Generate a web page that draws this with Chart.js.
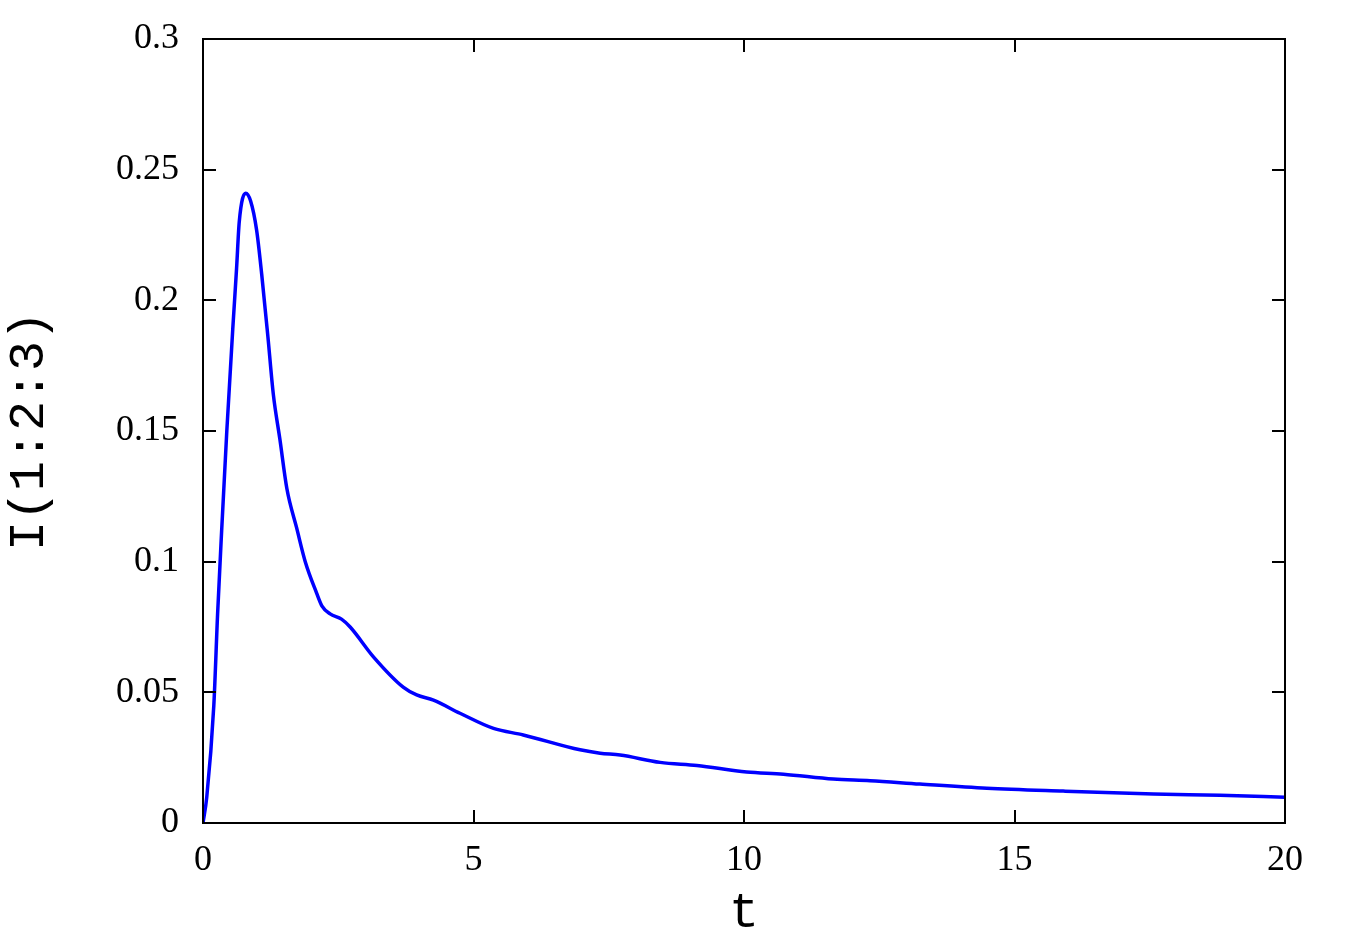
<!DOCTYPE html>
<html>
<head>
<meta charset="utf-8">
<script src="https://cdn.jsdelivr.net/npm/chart.js@4.4.1/dist/chart.umd.min.js"></script>
<style>
body { margin: 0; background: #fff; }
</style>
</head>
<body>
<canvas id="resultChart" width="1352" height="944"></canvas>
<script>
var tValues = [0, 0.07, 0.2, 0.27, 0.345, 0.44, 0.55, 0.62, 0.67, 0.79, 0.88, 0.99, 1.085, 1.2, 1.3, 1.42, 1.55, 1.73, 1.89, 2.1, 2.2, 2.35, 2.56, 2.72, 3.15, 3.7, 3.95, 4.26, 4.75, 5.37, 5.92, 6.97, 7.34, 7.71, 8.45, 9.13, 10.05, 10.73, 11.65, 12.33, 13.25, 14.49, 15.9, 17.57, 18.8, 20];
var iValues = [0, 0.01, 0.045, 0.08, 0.112, 0.15, 0.189, 0.212, 0.23, 0.241, 0.238, 0.227, 0.21, 0.186, 0.164, 0.147, 0.128, 0.113, 0.1, 0.088, 0.083, 0.08, 0.078, 0.075, 0.0636, 0.052, 0.049, 0.047, 0.042, 0.0362, 0.0337, 0.028, 0.0267, 0.026, 0.0232, 0.022, 0.0195, 0.0187, 0.0168, 0.0162, 0.0149, 0.0133, 0.0122, 0.0111, 0.0106, 0.0099];
var xTicks = [0, 5, 10, 15, 20];
var xTickLabels = ['0', '5', '10', '15', '20'];
var yTicks = [0, 0.05, 0.1, 0.15, 0.2, 0.25, 0.3];
var yTickLabels = ['0', '0.05', '0.1', '0.15', '0.2', '0.25', '0.3'];

var points = tValues.map(function (t, i) { return { x: t, y: iValues[i] }; });

// box round the plot and ticks pointing inwards on all four sides
var framePlugin = {
    id: 'frame',
    afterDraw: function (chart) {
        var a = chart.chartArea;
        var ctx = chart.ctx;
        var xs = chart.scales.x;
        var ys = chart.scales.y;
        var len = 13;
        ctx.save();
        ctx.strokeStyle = '#000';
        ctx.lineWidth = 2;
        ctx.beginPath();
        xs.ticks.forEach(function (t) {
            var p = Math.round(xs.getPixelForValue(t.value));
            ctx.moveTo(p, a.bottom); ctx.lineTo(p, a.bottom - len);
            ctx.moveTo(p, a.top); ctx.lineTo(p, a.top + len);
        });
        ys.ticks.forEach(function (t) {
            var p = Math.round(ys.getPixelForValue(t.value));
            ctx.moveTo(a.left, p); ctx.lineTo(a.left + len, p);
            ctx.moveTo(a.right, p); ctx.lineTo(a.right - len, p);
        });
        ctx.stroke();
        ctx.strokeRect(a.left, a.top, a.right - a.left, a.bottom - a.top);
        ctx.restore();
    }
};

var ctx = document.getElementById('resultChart');
var chart = new Chart(ctx, {
    type: 'line',
    data: {
        datasets: [{
            label: 'I(1:2:3)',
            data: points,
            borderColor: '#0000ff',
            borderWidth: 3.5,
            pointRadius: 0,
            fill: false,
            cubicInterpolationMode: 'monotone'
        }]
    },
    options: {
        responsive: false,
        animation: false,
        layout: { padding: { left: 0, right: 67, top: 39, bottom: 0 } },
        plugins: {
            legend: { display: false },
            tooltip: { enabled: false }
        },
        scales: {
            x: {
                type: 'linear',
                min: 0,
                max: 20,
                afterBuildTicks: function (s) {
                    s.ticks = xTicks.map(function (v) { return { value: v }; });
                },
                afterFit: function (s) {
                    s.height = 121;
                    s.paddingLeft = 0;
                    s.paddingRight = 0;
                },
                grid: { display: false, drawTicks: false },
                border: { display: false },
                ticks: {
                    color: '#000',
                    font: { family: 'Liberation Serif', size: 36 },
                    padding: 16,
                    maxRotation: 0,
                    callback: function (v, i) { return xTickLabels[i]; }
                },
                title: {
                    display: true,
                    text: 't',
                    color: '#000',
                    font: { family: 'Liberation Mono', size: 50 },
                    padding: 0
                }
            },
            y: {
                type: 'linear',
                min: 0,
                max: 0.3,
                afterBuildTicks: function (s) {
                    s.ticks = yTicks.map(function (v) { return { value: v }; });
                },
                afterFit: function (s) {
                    s.width = 203;
                    s.paddingTop = 0;
                    s.paddingBottom = 0;
                },
                grid: { display: false, drawTicks: false },
                border: { display: false },
                ticks: {
                    color: '#000',
                    font: { family: 'Liberation Serif', size: 36 },
                    padding: 24,
                    callback: function (v, i) { return yTickLabels[i]; }
                },
                title: {
                    display: true,
                    text: 'I(1:2:3)',
                    color: '#000',
                    font: { family: 'Liberation Mono', size: 50 },
                    padding: 0
                }
            }
        }
    },
    plugins: [framePlugin]
});
</script>
</body>
</html>
